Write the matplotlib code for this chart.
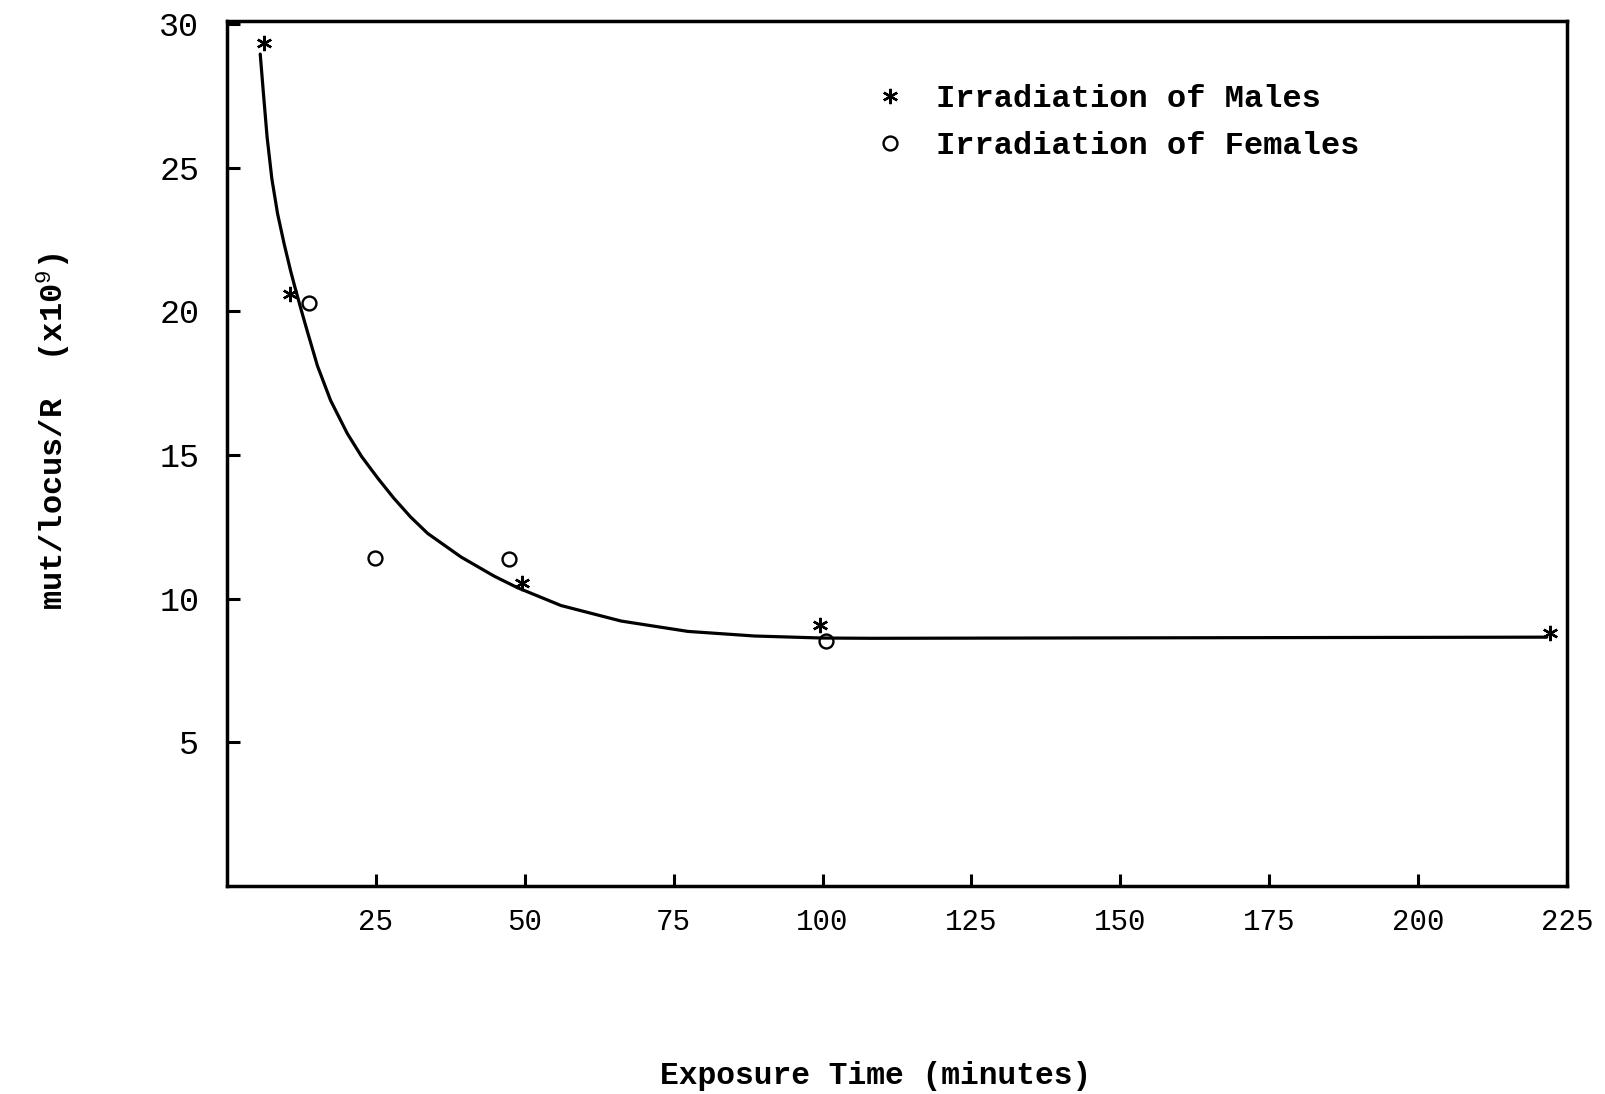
import matplotlib
matplotlib.use("Agg")
import matplotlib.pyplot as plt

plt.rcParams['font.family'] = ['Liberation Mono', 'DejaVu Sans Mono']
plt.rcParams['mathtext.fontset'] = 'custom'
plt.rcParams['mathtext.rm'] = 'Liberation Mono'
plt.rcParams['mathtext.it'] = 'Liberation Mono'

# data
males_x = [6.3, 10.6, 49.6, 99.5, 222.2]
males_y = [29.35, 20.6, 10.55, 9.1, 8.8]

females_x = [13.7, 24.8, 47.4, 100.6]
females_y = [20.3, 11.4, 11.37, 8.54]

# hand-drawn fitted curve, points traced along it
curve_x = [5.59, 6.1, 6.75, 7.55, 8.5, 9.6, 10.7, 11.4, 12.4, 13.5, 15.2, 17.4,
           20.2, 22.6, 25.3, 28.0, 30.8, 33.7, 39.3, 44.9, 48.8, 56.1, 66.2,
           77.4, 88.6, 99.9, 108.3, 221.6]
curve_y = [28.95, 27.65, 26.05, 24.6, 23.4, 22.35, 21.4, 20.85, 20.1, 19.3, 18.1, 16.9,
           15.75, 14.95, 14.2, 13.5, 12.85, 12.27, 11.45, 10.78, 10.38, 9.76, 9.22,
           8.86, 8.70, 8.63, 8.62, 8.66]

x_ticks = [25, 50, 75, 100, 125, 150, 175, 200, 225]
y_ticks = [5, 10, 15, 20, 25, 30]

fig = plt.figure(figsize=(16.06, 10.94), dpi=100)
ax = fig.add_axes([0.1413, 0.1901, 0.8344, 0.7907])

ax.plot(curve_x, curve_y, color='black', lw=2.3, solid_joinstyle='round',
        solid_capstyle='round')
ax.plot(males_x, males_y, linestyle='none', marker=(6, 2, 0), markersize=11,
        markeredgewidth=1.7, color='black', label='Irradiation of Males')
ax.plot(females_x, females_y, linestyle='none', marker='o', markersize=10,
        markerfacecolor='none', markeredgecolor='black', markeredgewidth=1.7,
        label='Irradiation of Females')

ax.set_xlim(0, 225)
ax.set_ylim(0, 30.1)
ax.set_xticks(x_ticks)
ax.set_yticks(y_ticks)
ax.set_xticklabels([str(v) for v in x_ticks])
ax.set_yticklabels([str(v) for v in y_ticks])
ax.tick_params(direction='in', length=9, width=2.2)
ax.tick_params(axis='x', pad=16, labelsize=21)
ax.tick_params(axis='y', pad=20, labelsize=24)
for s in ax.spines.values():
    s.set_linewidth(2.5)

ax.set_xlabel('Exposure Time (minutes)', fontsize=22.5, fontweight='bold',
              labelpad=90, x=0.484)
ax.set_ylabel('mut/locus/R  (x10$^9$)', fontsize=23, fontweight='bold',
              labelpad=62, y=0.525)

leg = ax.legend(loc='upper left', bbox_to_anchor=(0.4826, 0.927), frameon=False,
                prop={'size': 23, 'weight': 'bold'}, handlelength=1.0,
                handletextpad=0.95, labelspacing=0.52, borderaxespad=0,
                borderpad=0)

fig.savefig('out.png', dpi=100)
